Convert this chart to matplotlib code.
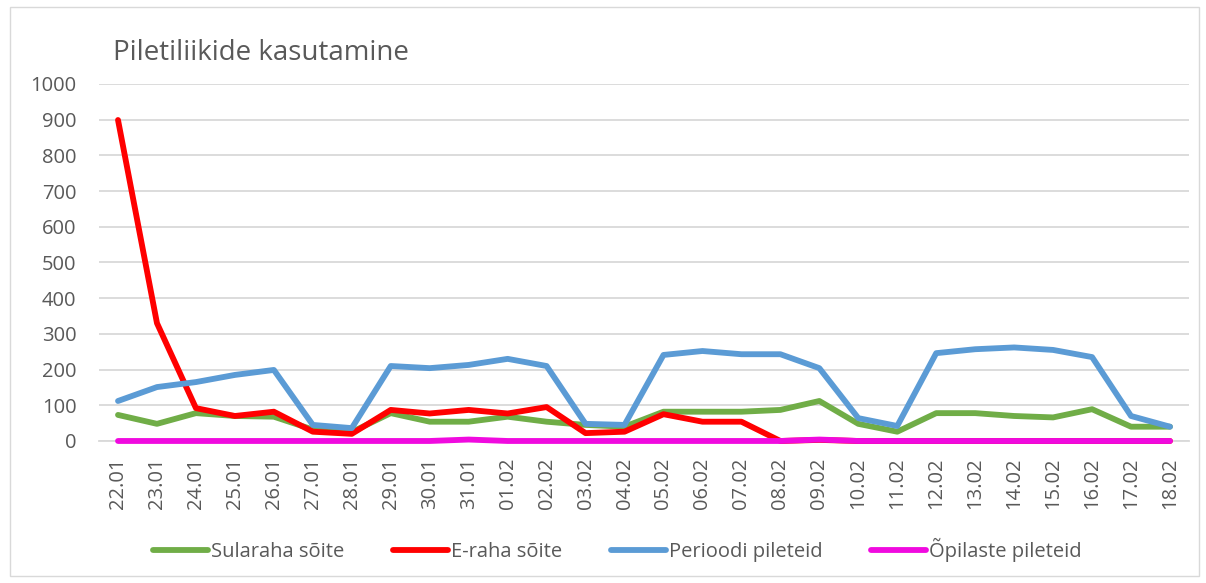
import matplotlib.pyplot as plt
from matplotlib.patches import Rectangle

plt.rcParams['font.family'] = ['Open Sans', 'DejaVu Sans']

dates = ['22.01', '23.01', '24.01', '25.01', '26.01', '27.01', '28.01', '29.01', '30.01', '31.01',
         '01.02', '02.02', '03.02', '04.02', '05.02', '06.02', '07.02', '08.02', '09.02', '10.02',
         '11.02', '12.02', '13.02', '14.02', '15.02', '16.02', '17.02', '18.02']
sularaha = [73, 48, 78, 70, 68, 32, 25, 78, 54, 54, 68, 54, 45, 40, 82, 82, 82, 87, 112, 48,
            26, 78, 78, 70, 66, 89, 40, 40]
e_raha = [899, 330, 92, 70, 82, 26, 20, 87, 77, 87, 77, 95, 22, 26, 75, 54, 54, 0, 3, 0,
          0, 0, 0, 0, 0, 0, 0, 0]
perioodi = [112, 151, 165, 185, 199, 45, 36, 210, 204, 213, 230, 210, 48, 45, 241, 252, 243, 243, 204, 64,
            42, 246, 257, 262, 255, 235, 70, 40]
opilaste = [0, 0, 0, 0, 0, 0, 0, 0, 0, 4, 0, 0, 0, 0, 0, 0, 0, 0, 4, 0,
            0, 0, 0, 0, 0, 0, 0, 0]

fig = plt.figure(figsize=(12.06, 5.83), dpi=100)
ax = fig.add_axes([0.0817, 0.2436, 0.9046, 0.6124])

x = range(len(dates))
lw = 4.2
series = [(sularaha, '#70AD47', 'Sularaha sõite'),
          (e_raha, '#FF0000', 'E-raha sõite'),
          (perioodi, '#5B9BD5', 'Perioodi pileteid'),
          (opilaste, '#F00ADF', 'Õpilaste pileteid')]
for vals, col, lab in series:
    ax.plot(x, vals, color=col, lw=lw, label=lab, solid_capstyle='round',
            solid_joinstyle='round', clip_on=False, zorder=3)

ax.set_xlim(-0.5, len(dates) - 0.5)
ax.set_ylim(0, 1000)
ax.set_yticks(range(0, 1001, 100))
ax.set_xticks(list(x))
ax.set_xticklabels(dates, rotation=90)
ax.tick_params(axis='both', length=0, colors='#595959', labelsize=14.5)
ax.tick_params(axis='x', pad=12)
ax.tick_params(axis='y', pad=16)
ax.grid(axis='y', color='#D9D9D9', lw=1.3)
ax.set_axisbelow(True)
for s in ['top', 'right', 'left']:
    ax.spines[s].set_visible(False)
ax.spines['bottom'].set_color('#D9D9D9')
ax.spines['bottom'].set_linewidth(1.3)
ax.spines['bottom'].set_zorder(1)

fig.text(0.0937, 0.909, 'Piletiliikide kasutamine', fontsize=20, color='#595959', va='center')

fig.legend(loc='center', bbox_to_anchor=(0.512, 0.057), ncol=4, frameon=False,
           fontsize=14.5, handlelength=2.75, columnspacing=2.4, handletextpad=0.15,
           labelcolor='#595959')

fig.patches.append(Rectangle((0.008, 0.012), 0.986, 0.976, transform=fig.transFigure,
                             fill=False, edgecolor='#D9D9D9', lw=1))

plt.savefig('out.png', dpi=100)
plt.close()
